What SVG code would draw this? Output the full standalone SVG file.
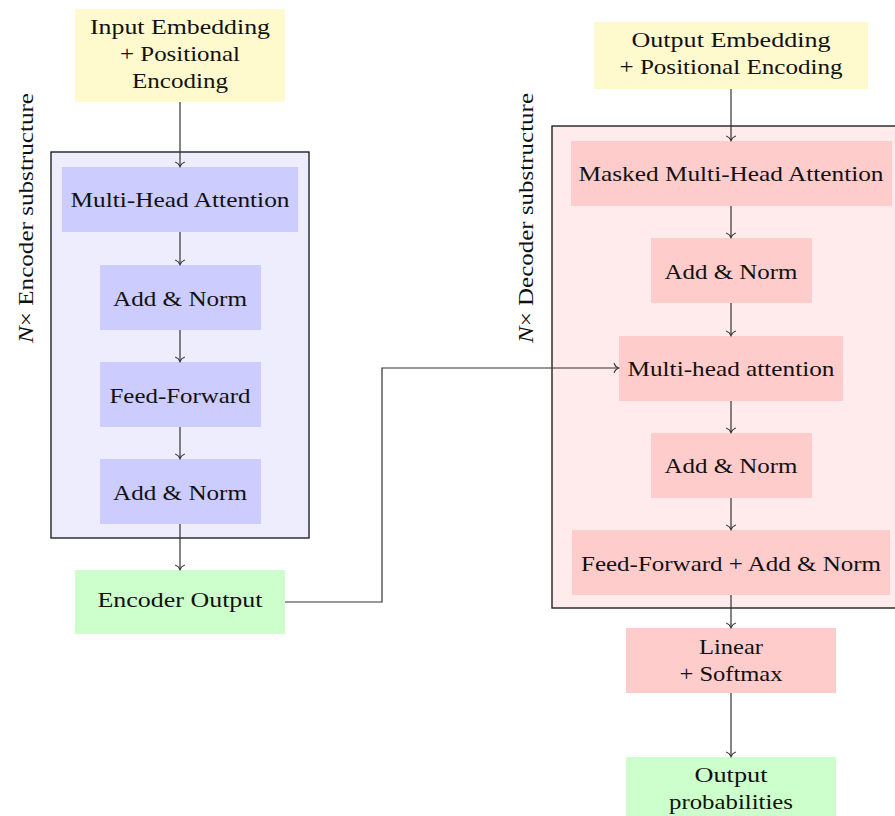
<svg xmlns="http://www.w3.org/2000/svg" width="895" height="816" viewBox="0 0 895 816">
<defs>
<marker id="arr" markerUnits="userSpaceOnUse" markerWidth="12" markerHeight="12" viewBox="-6 -6 12 12" refX="0" refY="0" orient="auto">
<path d="M-4.5,-4.8 C-3.6,-2.2 -1.6,-0.6 0,0 C-1.6,0.6 -3.6,2.2 -4.5,4.8" fill="none" stroke="#333" stroke-width="1.2"/>
</marker>
<style>
text{font-family:"Liberation Serif","Times New Roman",serif;font-size:22px;fill:#111;text-anchor:middle}
.frame{stroke:#222;stroke-width:1.4}
.yellow{fill:#FFF9CE}
.blue{fill:#CCCCFF}
.red{fill:#FFCCCC}
.green{fill:#CCFFCC}
.conn{fill:none;stroke:#333;stroke-width:1.2;marker-end:url(#arr)}
</style>
</defs>
<rect width="895" height="816" fill="#fff"/>
<g id="encoder-frame">
<rect class="frame" x="51" y="152" width="258" height="386" fill="#EDEDFE"/>
<text transform="translate(33,218) rotate(-90)" textLength="250" lengthAdjust="spacingAndGlyphs"><tspan font-style="italic">N</tspan>× Encoder substructure</text>
</g>
<g id="decoder-frame">
<rect class="frame" x="552" y="126" width="360" height="482" fill="#FFEBEB"/>
<text transform="translate(533,218) rotate(-90)" textLength="250" lengthAdjust="spacingAndGlyphs"><tspan font-style="italic">N</tspan>× Decoder substructure</text>
</g>
<g id="input-embedding">
<rect class="yellow" x="75" y="9" width="210" height="93"/>
<text x="180" y="34" textLength="180" lengthAdjust="spacingAndGlyphs">Input Embedding</text>
<text x="180" y="61" textLength="120" lengthAdjust="spacingAndGlyphs">+ Positional</text>
<text x="180" y="87.5" textLength="96" lengthAdjust="spacingAndGlyphs">Encoding</text>
</g>
<g id="enc-mha">
<rect class="blue" x="62" y="167" width="236" height="65"/>
<text x="180" y="207" textLength="219" lengthAdjust="spacingAndGlyphs">Multi-Head Attention</text>
</g>
<g id="enc-addnorm1">
<rect class="blue" x="100" y="265" width="161" height="65"/>
<text x="180" y="306" textLength="134" lengthAdjust="spacingAndGlyphs">Add &amp; Norm</text>
</g>
<g id="enc-ff">
<rect class="blue" x="100" y="362" width="161" height="65"/>
<text x="180" y="402.5" textLength="141" lengthAdjust="spacingAndGlyphs">Feed-Forward</text>
</g>
<g id="enc-addnorm2">
<rect class="blue" x="100" y="459" width="161" height="65"/>
<text x="180" y="500" textLength="134" lengthAdjust="spacingAndGlyphs">Add &amp; Norm</text>
</g>
<g id="encoder-output">
<rect class="green" x="75" y="570" width="210" height="64"/>
<text x="180" y="607" textLength="165" lengthAdjust="spacingAndGlyphs">Encoder Output</text>
</g>
<g id="output-embedding">
<rect class="yellow" x="594" y="22" width="274" height="67"/>
<text x="731" y="47" textLength="199" lengthAdjust="spacingAndGlyphs">Output Embedding</text>
<text x="731" y="73.5" textLength="223" lengthAdjust="spacingAndGlyphs">+ Positional Encoding</text>
</g>
<g id="dec-masked-mha">
<rect class="red" x="571" y="141" width="321" height="65"/>
<text x="731" y="181" textLength="305" lengthAdjust="spacingAndGlyphs">Masked Multi-Head Attention</text>
</g>
<g id="dec-addnorm1">
<rect class="red" x="651" y="238" width="161" height="65"/>
<text x="731" y="279" textLength="133" lengthAdjust="spacingAndGlyphs">Add &amp; Norm</text>
</g>
<g id="dec-mha">
<rect class="red" x="619" y="336" width="224" height="65"/>
<text x="731" y="376" textLength="207" lengthAdjust="spacingAndGlyphs">Multi-head attention</text>
</g>
<g id="dec-addnorm2">
<rect class="red" x="651" y="433" width="161" height="65"/>
<text x="731" y="473" textLength="133" lengthAdjust="spacingAndGlyphs">Add &amp; Norm</text>
</g>
<g id="dec-ff-addnorm">
<rect class="red" x="572" y="530" width="318" height="65"/>
<text x="731" y="571" textLength="300" lengthAdjust="spacingAndGlyphs">Feed-Forward + Add &amp; Norm</text>
</g>
<g id="linear-softmax">
<rect class="red" x="626" y="628" width="210" height="65"/>
<text x="731" y="654" textLength="64" lengthAdjust="spacingAndGlyphs">Linear</text>
<text x="731" y="681" textLength="103" lengthAdjust="spacingAndGlyphs">+ Softmax</text>
</g>
<g id="output-probabilities">
<rect class="green" x="626" y="757" width="210" height="70"/>
<text x="731" y="782" textLength="73" lengthAdjust="spacingAndGlyphs">Output</text>
<text x="731" y="808.5" textLength="124" lengthAdjust="spacingAndGlyphs">probabilities</text>
</g>
<g id="connectors">
<path class="conn" d="M180,102 V166.5"/>
<path class="conn" d="M180,232 V264.5"/>
<path class="conn" d="M180,330 V361.5"/>
<path class="conn" d="M180,427 V458.5"/>
<path class="conn" d="M180,524 V569.5"/>
<path class="conn" d="M285,602 H382 V368 H618.5"/>
<path class="conn" d="M731,89 V140.5"/>
<path class="conn" d="M731,206 V237.5"/>
<path class="conn" d="M731,303 V335.5"/>
<path class="conn" d="M731,401 V432.5"/>
<path class="conn" d="M731,498 V529.5"/>
<path class="conn" d="M731,595 V627.5"/>
<path class="conn" d="M731,693 V756.5"/>
</g>
</svg>
